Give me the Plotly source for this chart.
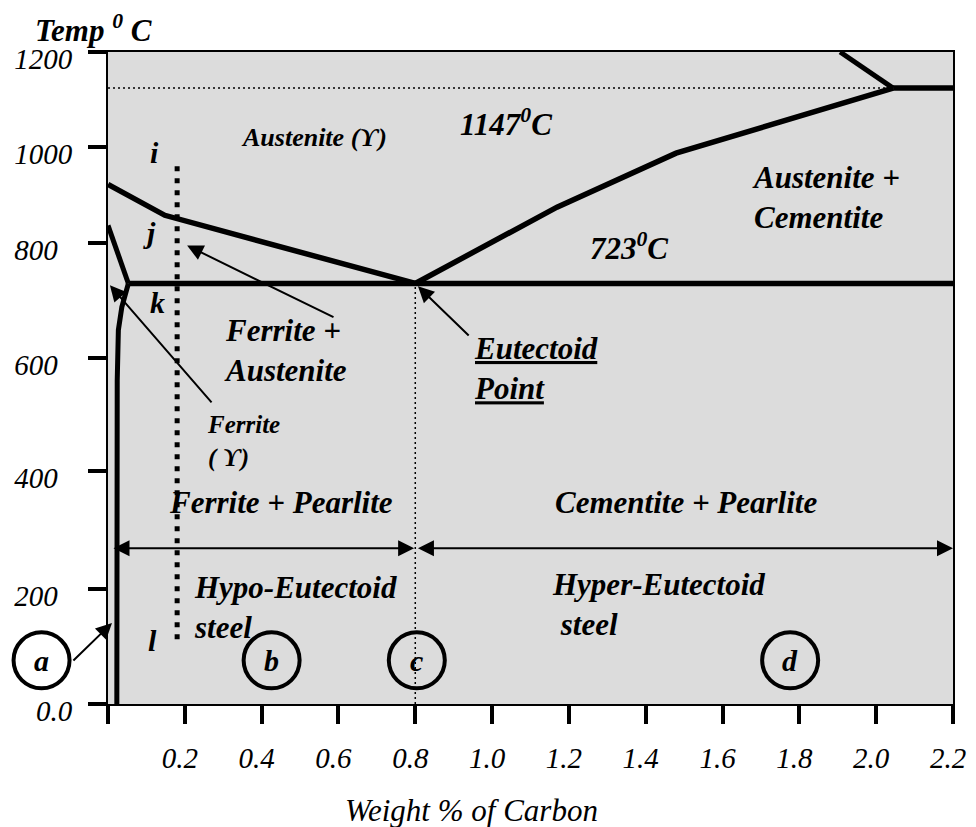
import numpy as np
import plotly.graph_objects as go

# ---------------- axes ----------------
TEMP_TICKS = [0, 200, 400, 600, 800, 1000, 1200]
TEMP_TICK_TEXT = ["0.0", "200", "400", "600", "800", "1000", "1200"]
CARBON_RANGE = [0.0, 2.2]
CARBON_TICKS = [0.0, 0.2, 0.4, 0.6, 0.8, 1.0, 1.2, 1.4, 1.6, 1.8, 2.0, 2.2]
CARBON_TICK_TEXT = ["", "0.2", "0.4", "0.6", "0.8", "1.0", "1.2", "1.4", "1.6", "1.8", "2.0", "2.2"]
# the hand-drawn temperature axis places its ticks unevenly (fraction of axis height)
TEMP_TICK_FRAC = [0.0, 0.1763, 0.3572, 0.5304, 0.7067, 0.8544, 1.0]


def ty(t):
    return np.interp(np.asarray(t, dtype=float), TEMP_TICKS, TEMP_TICK_FRAC)


def xdom(x):
    return (x - CARBON_RANGE[0]) / (CARBON_RANGE[1] - CARBON_RANGE[0])


# ---------------- phase boundaries (wt% C, deg C) ----------------
A3_X = [0.0, 0.148, 0.80]
A3_T = [922, 858, 730]
A3_FERRITE_X = [0.0, 0.053]
A3_FERRITE_T = [837, 730]
SOLVUS_X = [0.053, 0.036, 0.027, 0.024, 0.023]
SOLVUS_T = [730, 689, 649, 560, 0]
EUTECTOID_X = [0.053, 2.2]
EUTECTOID_T = [730, 730]
ACM_X = [0.80, 1.169, 1.479, 2.044]
ACM_T = [730, 875, 987, 1124]
LIQUIDUS_X = [1.906, 2.044]
LIQUIDUS_T = [1200, 1124]
EUTECTIC_X = [2.044, 2.2]
EUTECTIC_T = [1124, 1124]
GUIDE_1147_X = [0.0, 2.044]
GUIDE_1147_T = [1124, 1124]
GUIDE_08_X = [0.8, 0.8]
GUIDE_08_T = [0, 730]
SAMPLE_X = [0.18, 0.18]
SAMPLE_T = [960, 104]

# ---------------- labels ----------------
POINT_LABELS = ["i", "j", "k", "l"]
POINT_X = [0.122, 0.109, 0.130, 0.117]
POINT_T = [989, 823, 697, 111]

CIRCLE_LABELS = ["a", "b", "c", "d"]
CIRCLE_X = [-0.173, 0.426, 0.804, 1.776]
CIRCLE_T = [76, 76, 76, 76]

REGION_TEXT = [
    "Austenite (ϒ)",
    "1147<sup>0</sup>C",
    "723<sup>0</sup>C",
    "Austenite +<br>Cementite",
    "Ferrite +<br>Austenite",
    "<u>Eutectoid</u><br><u>Point</u>",
    "Ferrite<br>( ϒ)",
    "Ferrite + Pearlite",
    "Cementite + Pearlite",
    "Hypo-Eutectoid<br>steel",
    "Hyper-Eutectoid<br> steel",
]
REGION_X = [0.537, 1.035, 1.357, 1.672, 0.297, 0.948, 0.253, 0.451, 1.504, 0.219, 1.151]
REGION_T = [1020, 1052, 795, 896, 614, 581, 453, 347, 347, 168, 174]
REGION_ANCHOR = ["center", "center", "center", "left", "left", "left", "left",
                 "center", "center", "left", "left"]
REGION_SIZE = [26, 31, 31, 31, 31, 31, 25, 31, 31, 31, 31]

# arrows: head (x, T) and tail (x, T)
ARROW_HEAD_X = [0.206, 0.005, 0.807, 0.0104]
ARROW_HEAD_T = [796, 727, 725, 141]
ARROW_TAIL_X = [0.591, 0.273, 0.943, -0.094]
ARROW_TAIL_T = [670, 519, 637, 73]

SPAN_T = 269
HYPO_SPAN = [0.0105, 0.797]
HYPER_SPAN = [0.803, 2.2]

FONT = "Liberation Serif, Times New Roman, serif"

fig = go.Figure()


def boundary(x, t, width=5.5, dash="solid", color="black"):
    fig.add_trace(go.Scatter(
        x=x, y=ty(t), mode="lines",
        line=dict(color=color, width=width, dash=dash),
        hoverinfo="skip", showlegend=False,
    ))


boundary(GUIDE_1147_X, GUIDE_1147_T, width=1.5, dash="2px,3px")
boundary(GUIDE_08_X, GUIDE_08_T, width=1.5, dash="2px,3px")
boundary(SAMPLE_X, SAMPLE_T, width=5, dash="5px,7px")
boundary(A3_X, A3_T)
boundary(A3_FERRITE_X, A3_FERRITE_T, width=5)
boundary(SOLVUS_X, SOLVUS_T, width=5)
boundary(EUTECTOID_X, EUTECTOID_T)
boundary(ACM_X, ACM_T)
boundary(LIQUIDUS_X, LIQUIDUS_T, width=5)
boundary(EUTECTIC_X, EUTECTIC_T)

shapes = []
annotations = []

# circled letters (circle 'a' sits left of the plot area, so use domain x refs)
for lab, x, t in zip(CIRCLE_LABELS, CIRCLE_X, CIRCLE_T):
    shapes.append(dict(
        type="circle", xref="x domain", yref="y",
        xsizemode="pixel", ysizemode="pixel",
        xanchor=float(xdom(x)), yanchor=float(ty(t)),
        x0=-28, x1=28, y0=-28, y1=28,
        line=dict(color="black", width=4), fillcolor="rgba(0,0,0,0)",
    ))
    annotations.append(dict(
        x=float(xdom(x)), y=float(ty(t)), xref="x domain", yref="y", text=lab,
        showarrow=False,
        font=dict(family=FONT, size=30, color="black", style="italic", weight="bold"),
        xanchor="center", yanchor="middle",
    ))

for lab, x, t in zip(POINT_LABELS, POINT_X, POINT_T):
    annotations.append(dict(
        x=x, y=float(ty(t)), xref="x", yref="y", text=lab, showarrow=False,
        font=dict(family=FONT, size=30, color="black", style="italic", weight="bold"),
        xanchor="center", yanchor="middle",
    ))

for txt, x, t, anc, sz in zip(REGION_TEXT, REGION_X, REGION_T, REGION_ANCHOR, REGION_SIZE):
    annotations.append(dict(
        x=x, y=float(ty(t)), xref="x", yref="y", text=txt, showarrow=False,
        font=dict(family=FONT, size=sz, color="black", style="italic", weight="bold"),
        xanchor=anc, yanchor="middle", align=anc,
    ))

for hx, ht, tx, tt in zip(ARROW_HEAD_X, ARROW_HEAD_T, ARROW_TAIL_X, ARROW_TAIL_T):
    annotations.append(dict(
        x=hx, y=float(ty(ht)), ax=tx, ay=float(ty(tt)),
        xref="x", yref="y", axref="x", ayref="y", text="",
        showarrow=True, arrowhead=2, arrowsize=1.6, arrowwidth=2, arrowcolor="black",
        standoff=0, startstandoff=0,
    ))

for span in (HYPO_SPAN, HYPER_SPAN):
    annotations.append(dict(
        x=span[1], y=float(ty(SPAN_T)), ax=span[0], ay=float(ty(SPAN_T)),
        xref="x", yref="y", axref="x", ayref="y", text="",
        showarrow=True, arrowhead=2, startarrowhead=2, arrowside="end+start",
        arrowsize=1.6, startarrowsize=1.6, arrowwidth=2, arrowcolor="black",
        standoff=0, startstandoff=0,
    ))

# axis titles
annotations.append(dict(
    x=-0.0166, y=1.036, xref="paper", yref="paper",
    text="Temp <sup>0</sup> C", showarrow=False,
    font=dict(family=FONT, size=31, color="black", style="italic", weight="bold"),
    xanchor="center", yanchor="middle",
))
annotations.append(dict(
    x=0.4296, y=-0.1635, xref="paper", yref="paper",
    text="Weight % of Carbon", showarrow=False,
    font=dict(family=FONT, size=31, color="black", style="italic"),
    xanchor="center", yanchor="middle",
))

# the original left-aligns the temperature labels: pad the 3-digit ones
temp_tick_display = [t + "\u00a0\u00a0" if (len(t) == 3 and "." not in t) else t
                     for t in TEMP_TICK_TEXT]

fig.update_layout(
    template="none",
    width=968, height=819,
    margin=dict(l=100, r=23, t=44, b=123),
    paper_bgcolor="white",
    plot_bgcolor="#dcdcdc",
    showlegend=False,
    shapes=shapes,
    annotations=annotations,
    xaxis=dict(
        range=CARBON_RANGE, tickvals=CARBON_TICKS, ticktext=CARBON_TICK_TEXT,
        ticks="outside", ticklen=18, tickwidth=4, tickcolor="black",
        showline=True, linewidth=2, linecolor="black", mirror=True,
        showgrid=False, zeroline=False, automargin=False,
        ticklabelstandoff=9, ticklabelshift=-5,
        tickfont=dict(family=FONT, size=29, color="black", style="italic"),
    ),
    yaxis=dict(
        range=[0, 1], tickvals=TEMP_TICK_FRAC, ticktext=temp_tick_display,
        ticks="outside", ticklen=18, tickwidth=4, tickcolor="black",
        showline=True, linewidth=2, linecolor="black", mirror=True,
        showgrid=False, zeroline=False, automargin=False,
        ticklabelstandoff=10, ticklabelshift=7,
        tickfont=dict(family=FONT, size=29, color="black", style="italic"),
    ),
)

fig.write_html("out.html")
